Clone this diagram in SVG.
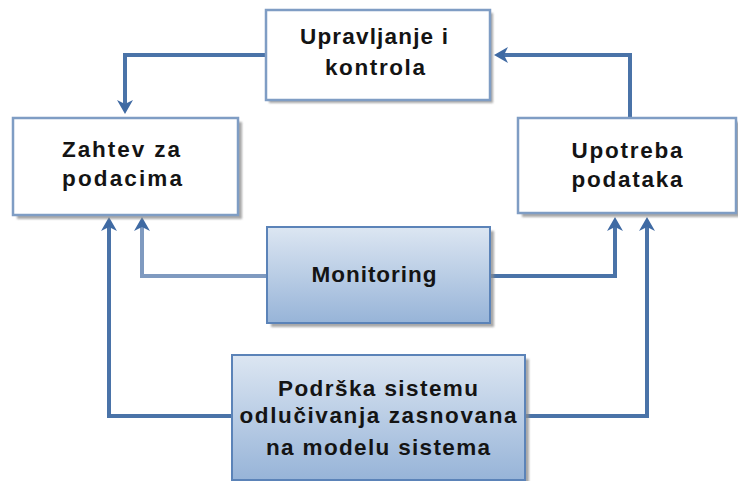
<svg xmlns="http://www.w3.org/2000/svg" width="738" height="481" viewBox="0 0 738 481">
  <defs>
    <linearGradient id="blueFill" x1="0" y1="0" x2="0" y2="1">
      <stop offset="0" stop-color="#dce6f2"/>
      <stop offset="1" stop-color="#97b4d8"/>
    </linearGradient>
    <filter id="soft" x="-5%" y="-5%" width="110%" height="110%">
      <feGaussianBlur stdDeviation="1"/>
    </filter>
    <marker id="arrow" markerUnits="userSpaceOnUse" markerWidth="16" markerHeight="18"
            viewBox="0 -9 16 18" refX="4" refY="0" orient="auto" overflow="visible">
      <path d="M14,0 L0,-8 L4,0 L0,8 Z" fill="#3f6aa3"/>
    </marker>
    <style>
      .shadow { fill: #8c8c8c; opacity: 0.75; filter: url(#soft); }
      .plain { fill: #ffffff; stroke: #7f9dc4; stroke-width: 2.5; }
      .blue { fill: url(#blueFill); stroke: #5b83b8; stroke-width: 2; }
      .label { font-family: "Liberation Sans", Arial, sans-serif; font-weight: bold;
               font-size: 22.5px; fill: #141414; text-anchor: middle; }
      .conn { fill: none; stroke: #4a73a8; stroke-width: 4; stroke-linejoin: miter;
              marker-end: url(#arrow); }
      .conn.light { stroke: #7f9ac0; }
    </style>
  </defs>

  <!-- connectors -->
  <g id="connectors">
    <!-- control box down to the data request box -->
    <path class="conn" d="M266,55 H125 V104"/>
    <!-- data use box back up to the control box -->
    <path class="conn" d="M630,118 V55 H504"/>
    <!-- monitoring feeds both upper boxes -->
    <path class="conn light" d="M267,276 H142 V227"/>
    <path class="conn" d="M490,276 H615 V227"/>
    <!-- decision support feeds both upper boxes -->
    <path class="conn" d="M232,416 H109 V227"/>
    <path class="conn" d="M525,416 H647 V227"/>
  </g>

  <g id="upravljanje">
    <rect class="shadow" x="269" y="13" width="224" height="90"/>
    <rect class="plain" x="266" y="10" width="224" height="90"/>
    <text class="label" x="374" y="44" textLength="148" lengthAdjust="spacing">Upravljanje i</text>
    <text class="label" x="375" y="75" textLength="100" lengthAdjust="spacing">kontrola</text>
  </g>

  <g id="zahtev">
    <rect class="shadow" x="17" y="122" width="225" height="97"/>
    <rect class="plain" x="13" y="118" width="225" height="97"/>
    <text class="label" x="121" y="157" textLength="118" lengthAdjust="spacing">Zahtev za</text>
    <text class="label" x="122" y="186" textLength="120" lengthAdjust="spacing">podacima</text>
  </g>

  <g id="upotreba">
    <rect class="shadow" x="522" y="122" width="218" height="95"/>
    <rect class="plain" x="518" y="118" width="218" height="95"/>
    <text class="label" x="627" y="158" textLength="111" lengthAdjust="spacing">Upotreba</text>
    <text class="label" x="627" y="187" textLength="111" lengthAdjust="spacing">podataka</text>
  </g>

  <g id="monitoring">
    <rect class="shadow" x="271" y="231" width="223" height="96"/>
    <rect class="blue" x="267" y="227" width="223" height="96"/>
    <text class="label" x="374" y="282" textLength="125" lengthAdjust="spacing">Monitoring</text>
  </g>

  <g id="podrska">
    <rect class="shadow" x="236" y="359" width="293" height="125"/>
    <rect class="blue" x="232" y="355" width="293" height="125"/>
    <text class="label" x="378" y="396" textLength="200" lengthAdjust="spacing">Podrška sistemu</text>
    <text class="label" x="378" y="423" textLength="277" lengthAdjust="spacing">odlučivanja zasnovana</text>
    <text class="label" x="378" y="455" textLength="224" lengthAdjust="spacing">na modelu sistema</text>
  </g>
</svg>
